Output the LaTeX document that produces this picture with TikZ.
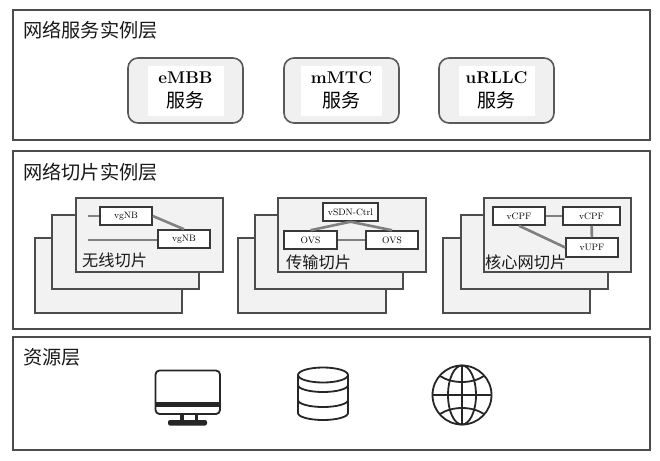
\documentclass[tikz,border=0pt]{standalone}
\usepackage{fontspec}
\newfontfamily\cjk{Noto Sans CJK SC}
\tikzset{
  layerbox/.style={draw=black!70,line width=1.6pt,fill=white,inner sep=0pt},
  layertitle/.style={anchor=west,inner sep=0pt,font=\cjk\fontsize{19.2}{21}\selectfont,text=black!90},
  servicebox/.style={draw=black!65,line width=1.6pt,fill=black!6,rounded corners=10pt,minimum width=115pt,minimum height=65pt,inner sep=0pt},
  servicetext/.style={fill=white,align=center,inner sep=0pt,minimum width=76pt,minimum height=50pt,font=\fontsize{17}{24}\selectfont\bfseries},
  slicesheet/.style={draw=black!70,line width=1.6pt,fill=black!5},
  funcbox/.style={draw=black!78,line width=1.5pt,fill=white,inner sep=0pt,minimum height=18pt,font=\fontsize{9.3}{10}\selectfont},
  slicelabel/.style={anchor=west,inner sep=0pt,font=\cjk\fontsize{16.2}{18}\selectfont,text=black!90},
  link/.style={draw=black!50,line width=2.6pt},
  iconline/.style={draw=black!85,line width=1.8pt}
}
\begin{document}
\begin{tikzpicture}[x=1pt,y=-1pt]
\useasboundingbox (0,0) rectangle (660,460);
% Three layers
\node[layerbox,minimum width=637pt,minimum height=130pt] (serviceLayer) at (331.5,75) {};
\node[layerbox,minimum width=637pt,minimum height=178pt] (sliceLayer) at (331.5,240) {};
\node[layerbox,minimum width=637pt,minimum height=113pt] (resourceLayer) at (331.5,393.5) {};
\node[layertitle] (serviceTitle) at (23,30) {网络服务实例层};
\node[layertitle] (sliceTitle) at (23,172) {网络切片实例层};
\node[layertitle] (resourceTitle) at (23,357) {资源层};

% Services
\foreach \name/\cx/\txt/\innerw in {embb/185.5/eMBB/76pt,mmtc/341.5/mMTC/81pt,urllc/496.5/uRLLC/76pt} {
  \node[servicebox] (\name) at (\cx,90.5) {};
  \node[servicetext,minimum width=\innerw] (\name Text) at (\cx,90.5) {\txt\\{\cjk\mdseries\fontsize{19}{24}\selectfont 服务}};
}

% Stacked slice sheets
\foreach \xa/\xb/\xc/\w in {35/52/76/147,238/255/278/148,443/461/484/147} {
  \path[slicesheet] (\xa,238) rectangle ++(\w,75);
  \path[slicesheet] (\xb,215) rectangle ++(\w,74);
  \path[slicesheet] (\xc,198) rectangle ++(\w,74);
}

% Radio slice
\node[funcbox,minimum width=52pt] (gnbA) at (126,216) {vgNB};
\node[funcbox,minimum width=52pt] (gnbB) at (184,239) {vgNB};
\coordinate (stubA) at (88,216);
\coordinate (stubB) at (88,240);
\draw[link] (stubA) -- (gnbA);
\draw[link] (stubB) -- (stubB -| gnbB.west);
\draw[link] (gnbA.east) -- (gnbB.north);
\node[slicelabel] (radioLabel) at (82,260) {无线切片};

% Transport slice
\node[funcbox,minimum width=55pt] (sdnCtrl) at (350.5,212) {vSDN-Ctrl};
\node[funcbox,minimum width=53pt] (ovsA) at (310.5,240) {OVS};
\node[funcbox,minimum width=52pt] (ovsB) at (392,240) {OVS};
\draw[link] (sdnCtrl.south) -- (ovsA.north);
\draw[link] (sdnCtrl.south) -- (ovsB.north);
\draw[link] (ovsA) -- (ovsB);
\node[slicelabel] (transportLabel) at (286,262) {传输切片};

% Core slice
\node[funcbox,minimum width=52pt] (cpfA) at (519,216) {vCPF};
\node[funcbox,minimum width=57pt] (cpfB) at (591.5,216) {vCPF};
\node[funcbox,minimum width=52pt,minimum height=19pt] (upf) at (592,247.5) {vUPF};
\draw[link] (cpfA) -- (cpfB);
\draw[link] (cpfB) -- (upf);
\draw[link] (cpfA.south) -- (upf.west);
\node[slicelabel] (coreLabel) at (485,262) {核心网切片};

% Monitor icon
\draw[iconline,rounded corners=4pt] (155.5,370.5) rectangle (220,414);
\fill[black!85] (156,402) rectangle (220,407);
\fill[black!85] (180,414) rectangle (183.5,421);
\fill[black!85] (194.5,414) rectangle (198,421);
\fill[black!85,rounded corners=2pt] (168,420) rectangle (207,425.5);

% Database icon
\draw[iconline] (298,375) -- (298,413) arc[start angle=180,end angle=0,x radius=25,y radius=7] -- (348,375);
\draw[iconline] (323,375) ellipse[x radius=25,y radius=7.5];
\draw[iconline] (298,385) arc[start angle=180,end angle=0,x radius=25,y radius=7];
\draw[iconline] (298,400) arc[start angle=180,end angle=0,x radius=25,y radius=7];

% Globe icon
\draw[iconline] (462,395) circle (29.5);
\draw[iconline] (462,395) ellipse[x radius=14,y radius=29.5];
\draw[iconline] (462,365.5) -- (462,424.5);
\draw[iconline] (432.5,395) -- (491.5,395);
\draw[iconline] (440,376) .. controls (452,384) and (472,384) .. (484,376);
\draw[iconline] (440,414) .. controls (452,406) and (472,406) .. (484,414);
\end{tikzpicture}
\end{document}
